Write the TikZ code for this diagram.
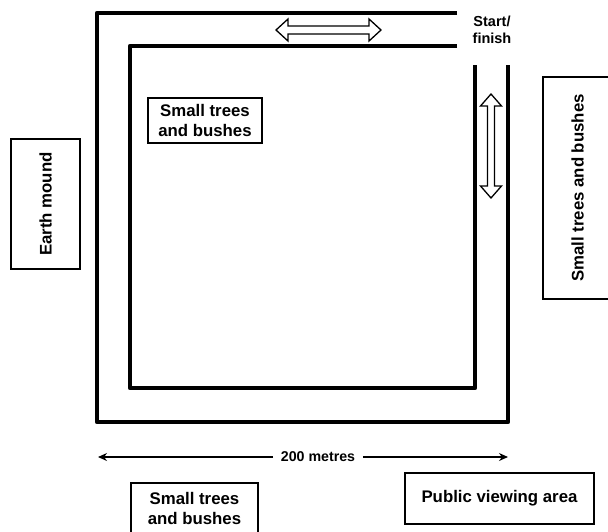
\documentclass[tikz,border=0pt]{standalone}
\usepackage{fontspec}
\setmainfont{Liberation Sans}
\usetikzlibrary{arrows.meta}
\begin{document}
\begin{tikzpicture}[x=1pt,y=-1pt,
  track/.style={line width=4.5pt,line join=round},
  lbl/.style={draw,line width=2.5pt,align=center,inner sep=0pt,
     font=\fontsize{16.8}{20}\selectfont\bfseries},
  dbl/.style={draw,line width=1.3pt,line join=miter,fill=white},
  dim/.style={line width=1.3pt,-{Stealth[length=9pt,width=8pt]}}]
\useasboundingbox (0,0) rectangle (608,531);
\clip (0,0) rectangle (608,531);
% track
\draw[track] (457,13) -- (97,13) -- (97,422) -- (508,422) -- (508,65);
\draw[track] (457,46) -- (130,46) -- (130,388) -- (475,388) -- (475,65);
% horizontal double arrow
\draw[dbl] (276,30) -- (288,19) -- (288,26) -- (369,26) -- (369,19) -- (381,30)
  -- (369,41) -- (369,34) -- (288,34) -- (288,41) -- cycle;
% vertical double arrow
\draw[dbl] (491,94) -- (501.5,106) -- (494.5,106) -- (494.5,186) -- (501.5,186) -- (491,198)
  -- (480.5,186) -- (487.5,186) -- (487.5,106) -- (480.5,106) -- cycle;
% start/finish
\node[align=center,inner sep=0pt,font=\fontsize{14.5}{16.5}\selectfont\bfseries] (sf) at (492,30) {Start/\\finish};
% boxes
\node[lbl,minimum width=114pt,minimum height=45pt] (tin) at (205,120.5) {Small trees\\and bushes};
\node[lbl,rotate=90,minimum width=130pt,minimum height=69pt] (earth) at (45.5,204) {Earth mound};
\node[lbl,rotate=90,minimum width=222pt,minimum height=69pt] (tright) at (577.5,188) {Small trees and bushes};
\node[lbl,minimum width=127pt,minimum height=51pt] (tbot) at (194.5,508.5) {Small trees\\and bushes};
\node[lbl,minimum width=189pt,minimum height=51pt] (pub) at (499.5,498.5) {Public viewing area};
% dimension
\coordinate (dl) at (98,457);
\coordinate (dr) at (508,457);
\node[inner xsep=7.5pt,inner ysep=0pt,font=\fontsize{14.2}{16}\selectfont\bfseries] (dimt) at (318,457) {200 metres};
\draw[dim] (dimt.west) -- (dl);
\draw[dim] (dimt.east) -- (dr);
\end{tikzpicture}
\end{document}
